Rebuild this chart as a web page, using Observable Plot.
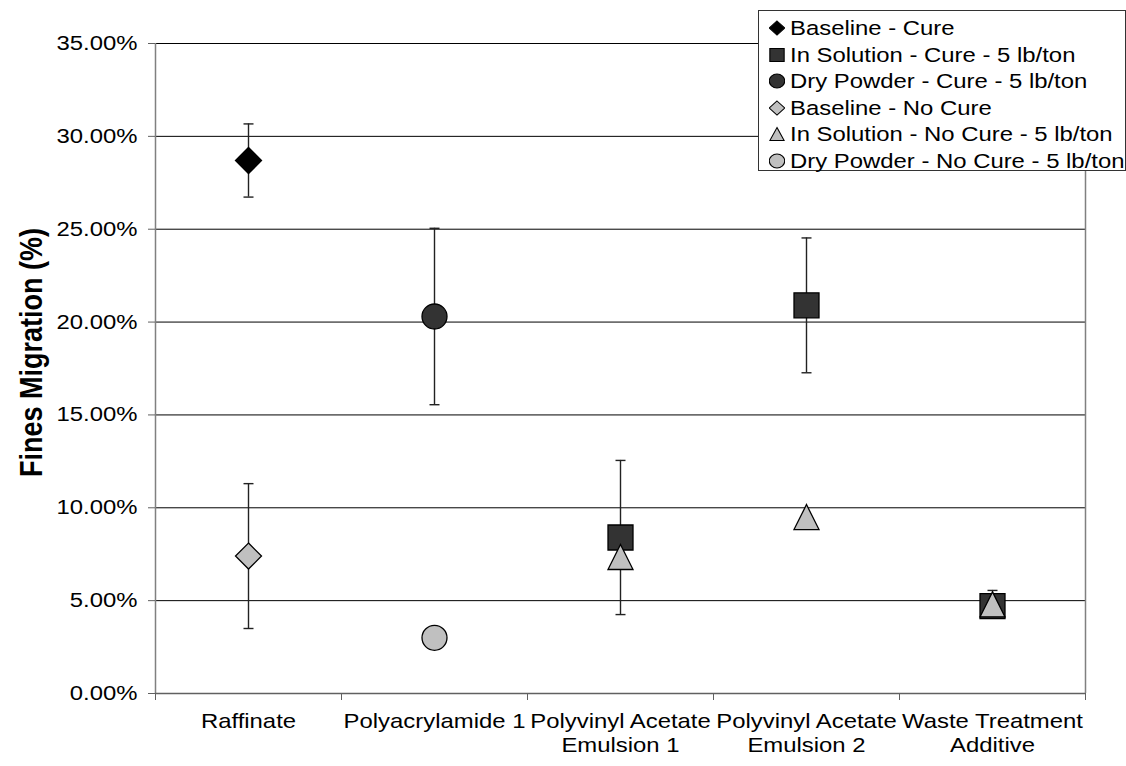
<!DOCTYPE html>
<html>
<head>
<meta charset="utf-8">
<script src="https://cdn.jsdelivr.net/npm/d3@7"></script>
<script src="https://cdn.jsdelivr.net/npm/@observablehq/plot@0.6"></script>
<style>
  html, body { margin: 0; padding: 0; background: #fff; }
  #wrap { position: relative; width: 1126px; height: 766px; overflow: hidden; font-family: "Liberation Sans", Arial, sans-serif; }
  #legend { position: absolute; left: 758px; top: 10px; width: 368px; height: 161px; border: 1.5px solid #333; background: #fff; box-sizing: border-box; }
  .row { position: absolute; left: 0; height: 26px; display: flex; align-items: center; font-size: 20.5px; color: #000; white-space: nowrap; }
  .row svg { margin-left: 10px; margin-right: 5px; }
  .row span { display: inline-block; transform: scaleX(1.165); transform-origin: left center; }
</style>
</head>
<body>
<div id="wrap"><div id="chart"></div><div id="legend"></div></div>
<script>
// Treatments along the x axis
const categories = ["Raffinate", "Polyacrylamide 1", "Polyvinyl Acetate\nEmulsion 1", "Polyvinyl Acetate\nEmulsion 2", "Waste Treatment\nAdditive"];

// Series names
const seriesNames = [
  "Baseline - Cure",
  "In Solution - Cure - 5 lb/ton",
  "Dry Powder - Cure - 5 lb/ton",
  "Baseline - No Cure",
  "In Solution - No Cure - 5 lb/ton",
  "Dry Powder - No Cure - 5 lb/ton"
];

// Fines migration (fraction) per category, null where not tested
const baselineCure      = [0.287, null, null, null, null];
const inSolutionCure    = [null, null, 0.084, 0.209, 0.047];
const dryPowderCure     = [null, 0.203, null, null, null];
const baselineNoCure    = [0.074, null, null, null, null];
const inSolutionNoCure  = [null, null, 0.0735, 0.095, 0.048];
const dryPowderNoCure   = [null, 0.030, null, null, null];

// Error bar half-widths (± fraction)
const baselineCureErr     = [0.0197, null, null, null, null];
const inSolutionCureErr   = [null, null, 0.0415, 0.0363, null];
const dryPowderCureErr    = [null, 0.0475, null, null, null];
const baselineNoCureErr   = [0.039, null, null, null, null];
const inSolutionNoCureErr = [null, null, null, null, 0.0075];
const dryPowderNoCureErr  = [null, null, null, null, null];

const yTicks = [0, 0.05, 0.10, 0.15, 0.20, 0.25, 0.30, 0.35];

// Excel-style marker shapes; r is half the marker width
const rad = size => Math.sqrt(size / Math.PI);
const diamond = {draw(c, s) { const r = rad(s); c.moveTo(0, -r); c.lineTo(r, 0); c.lineTo(0, r); c.lineTo(-r, 0); c.closePath(); }};
const square = {draw(c, s) { const r = rad(s); c.rect(-r, -r, 2 * r, 2 * r); }};
const circle = {draw(c, s) { const r = rad(s); c.moveTo(r, 0); c.arc(0, 0, r, 0, 2 * Math.PI); }};
const triangle = {draw(c, s) { const r = rad(s); c.moveTo(0, -r); c.lineTo(r, r); c.lineTo(-r, r); c.closePath(); }};
const cap = {draw(c, s) { const r = rad(s); c.moveTo(-r, 0); c.lineTo(r, 0); }};

const styles = [
  {symbol: diamond, fill: "#000000", r: 13, lr: 7},
  {symbol: square, fill: "#333333", r: 12.5, lr: 6.5},
  {symbol: circle, fill: "#333333", r: 12.5, lr: 7},
  {symbol: diamond, fill: "#c0c0c0", r: 13, lr: 7},
  {symbol: triangle, fill: "#c0c0c0", r: 12.5, lr: 6.5},
  {symbol: circle, fill: "#c0c0c0", r: 12.5, lr: 7}
];

const values = [baselineCure, inSolutionCure, dryPowderCure, baselineNoCure, inSolutionNoCure, dryPowderNoCure];
const errors = [baselineCureErr, inSolutionCureErr, dryPowderCureErr, baselineNoCureErr, inSolutionNoCureErr, dryPowderNoCureErr];

const rows = [];
values.forEach((vals, s) => vals.forEach((v, i) => {
  if (v != null) rows.push({series: s, pos: i + 0.5, value: v, err: errors[s][i]});
}));
const withErr = rows.filter(d => d.err != null);

const pct = d3.format(".2%");
const yTitle = "Fines Migration (%)";

const chart = Plot.plot({
  width: 1126,
  height: 766,
  marginLeft: 155,
  marginRight: 41,
  marginTop: 43,
  marginBottom: 73,
  style: {fontFamily: "'Liberation Sans', Arial, sans-serif", background: "#fff", color: "#000"},
  x: {domain: [0, categories.length]},
  y: {domain: [0, 0.35]},
  marks: [
    // horizontal gridlines
    Plot.ruleY(yTicks.filter(t => t > 0), {stroke: "#000", strokeWidth: 1}),
    // plot border: left axis, baseline, right edge
    Plot.ruleX([0, categories.length], {stroke: "#808080", strokeWidth: 1.5}),
    Plot.ruleY([0], {stroke: "#606060", strokeWidth: 1.5}),
    Plot.axisY(yTicks, {tickFormat: pct, tickSize: 7, tickPadding: 11, fontSize: 20.5, stroke: "#606060", label: null}),
    Plot.axisX(d3.range(categories.length + 1), {tickFormat: () => "", tickSize: 7, stroke: "#606060", label: null}),
    Plot.axisX(d3.range(categories.length).map(i => i + 0.5), {
      tickFormat: (d, i) => categories[i], tickSize: 0, tickPadding: 18, fontSize: 20.5, lineHeight: 1.16, label: null
    }),
    Plot.text([yTitle], {frameAnchor: "left", textAnchor: "middle", dx: -124, dy: -16, rotate: -90, fontSize: 27, fontWeight: "bold"}),
    // error bars
    Plot.ruleX(withErr, {x: "pos", y1: d => d.value - d.err, y2: d => d.value + d.err, stroke: "#222", strokeWidth: 1.4}),
    Plot.dot(withErr, {x: "pos", y: d => d.value + d.err, symbol: cap, r: 5, stroke: "#222", strokeWidth: 1.4, fill: "none"}),
    Plot.dot(withErr, {x: "pos", y: d => d.value - d.err, symbol: cap, r: 5, stroke: "#222", strokeWidth: 1.4, fill: "none"}),
    // markers, one layer per series in legend order
    ...styles.map((st, s) => Plot.dot(rows.filter(d => d.series === s), {
      x: "pos", y: "value", symbol: st.symbol, r: st.r, fill: st.fill, stroke: "#000", strokeWidth: 1.3
    }))
  ]
});

// Widen the lettering horizontally (Excel-like wide text), keeping each label's anchor point
const stretch = 1.165;
d3.select(chart).selectAll("text").each(function() {
  const t = this.getAttribute("transform") || "";
  const isTitle = this.textContent === yTitle;
  this.setAttribute("transform", t + (isTitle ? ` scale(1,${stretch})` : ` scale(${stretch},1)`));
});
document.getElementById("chart").appendChild(chart);

// legend
const legend = document.getElementById("legend");
seriesNames.forEach((name, s) => {
  const st = styles[s];
  const row = document.createElement("div");
  row.className = "row";
  row.style.top = (4 + s * 26.6) + "px";
  const size = 16;
  const svg = d3.create("svg").attr("width", size).attr("height", size);
  svg.append("path")
    .attr("transform", `translate(${size / 2},${size / 2}) scale(1.1,1)`)
    .attr("d", d3.symbol(st.symbol, Math.PI * st.lr * st.lr)())
    .attr("fill", st.fill).attr("stroke", "#000").attr("stroke-width", 1);
  row.appendChild(svg.node());
  const span = document.createElement("span");
  span.textContent = name;
  row.appendChild(span);
  legend.appendChild(row);
});
</script>
</body>
</html>
